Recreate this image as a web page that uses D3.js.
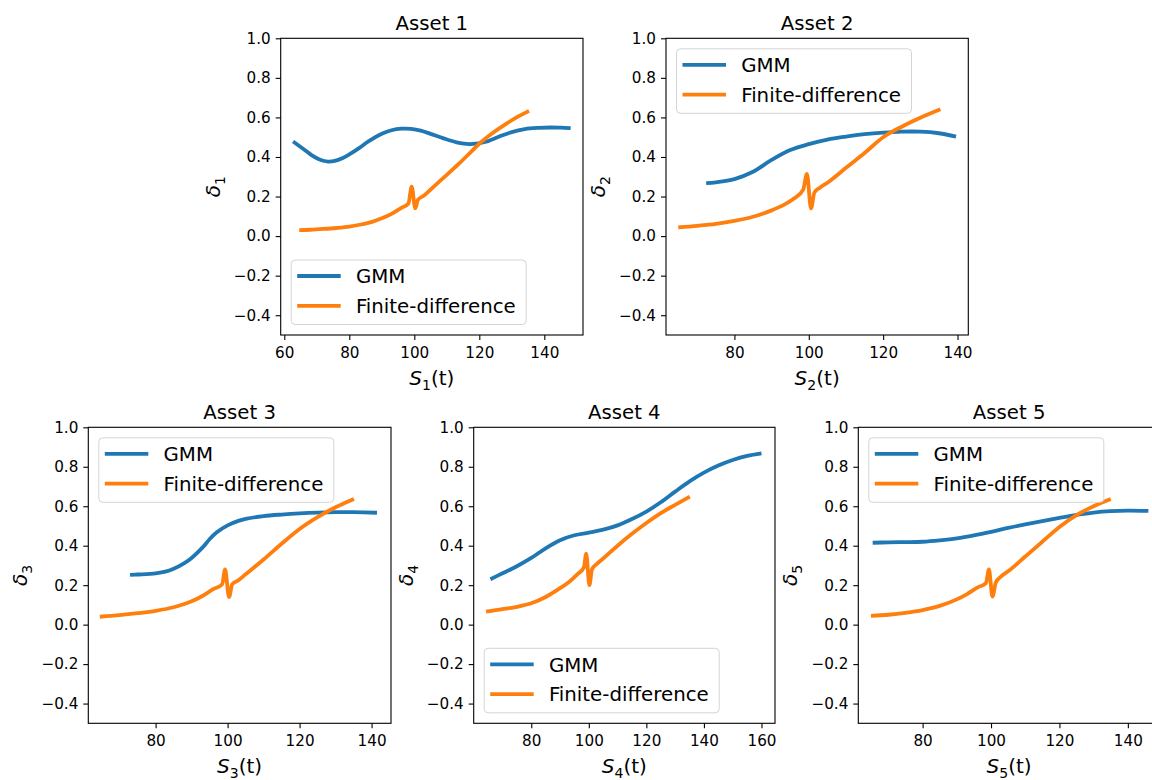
<!DOCTYPE html>
<html>
<head>
<meta charset="utf-8">
<script src="https://cdn.jsdelivr.net/npm/d3@7"></script>
<style>
  body { margin: 0; background: #fff; }
  svg { display: block; }
  text { font-family: "DejaVu Sans", sans-serif; fill: #000; }
</style>
</head>
<body>
<svg id="chart" width="1152" height="780"></svg>
<script>
// ---- data: delta estimates per asset, [S, delta] ----
const seriesNames = ["GMM", "Finite-difference"];
const yTicks = [-0.4, -0.2, 0.0, 0.2, 0.4, 0.6, 0.8, 1.0];
const yDomain = [-0.5, 1.0];

const gmm1 = [[62.7,0.478],[64.5,0.457],[66.5,0.433],[68.5,0.408],[70.5,0.390],[72,0.381],[73.5,0.377],[75.5,0.380],[78,0.395],[80,0.413],[83,0.445],[86,0.480],[90,0.517],[93,0.535],[96,0.543],[99,0.542],[102,0.533],[105,0.517],[109,0.494],[113,0.474],[116,0.466],[119,0.467],[122,0.477],[126,0.502],[130,0.526],[134,0.541],[138,0.547],[142,0.549],[145,0.548],[148.1,0.546]];
const fd1 = [[64.6,0.030],[68,0.032],[72,0.036],[76,0.041],[80,0.048],[84,0.060],[87,0.072],[90,0.090],[93,0.112],[96,0.143],[98.2,0.165],[99.2,0.250],[100.3,0.140],[101.1,0.183],[103,0.205],[106,0.250],[110,0.310],[114,0.370],[118,0.435],[120,0.467],[124,0.520],[128,0.565],[132,0.605],[135.3,0.633]];

const gmm2 = [[72.4,0.268],[75,0.272],[80,0.288],[85,0.325],[90,0.385],[95,0.435],[100,0.465],[105,0.488],[110,0.503],[115,0.515],[120,0.523],[125,0.528],[130,0.528],[135,0.520],[139.6,0.503]];
const fd2 = [[64.9,0.044],[70,0.052],[75,0.062],[80,0.077],[85,0.098],[90,0.130],[93,0.155],[96,0.190],[98.5,0.235],[99.5,0.315],[100.6,0.140],[101.5,0.220],[103,0.245],[105,0.270],[110,0.345],[115,0.420],[120,0.500],[125,0.553],[130,0.598],[135.4,0.641]];

const gmm3 = [[72.9,0.252],[75,0.254],[80,0.260],[83,0.270],[85,0.283],[88,0.312],[90,0.338],[93,0.390],[95,0.433],[97,0.468],[100,0.503],[103,0.526],[105,0.536],[110,0.550],[115,0.558],[120,0.564],[125,0.568],[130,0.570],[135,0.570],[141.5,0.567]];
const fd3 = [[64.5,0.040],[70,0.048],[75,0.058],[80,0.070],[85,0.088],[90,0.118],[93,0.145],[96,0.180],[98.5,0.205],[99.3,0.280],[100.4,0.140],[101.3,0.205],[103,0.225],[105,0.255],[110,0.330],[115,0.410],[120,0.485],[125,0.545],[130,0.595],[135.1,0.637]];

const gmm4 = [[65.8,0.230],[70,0.260],[75,0.296],[80,0.338],[85,0.387],[90,0.428],[95,0.453],[100,0.466],[105,0.481],[110,0.503],[115,0.535],[120,0.573],[125,0.620],[130,0.674],[135,0.726],[140,0.770],[145,0.806],[150,0.834],[155,0.855],[160,0.868]];
const fd4 = [[64.3,0.066],[70,0.078],[75,0.090],[80,0.108],[85,0.140],[90,0.185],[93,0.215],[96,0.255],[98.3,0.290],[99.1,0.360],[100.2,0.200],[101.1,0.280],[103,0.310],[105,0.335],[110,0.400],[115,0.460],[120,0.515],[125,0.565],[130,0.607],[135.1,0.649]];

const gmm5 = [[65.4,0.415],[70,0.417],[75,0.418],[80,0.420],[85,0.427],[90,0.437],[95,0.452],[100,0.470],[105,0.490],[110,0.508],[115,0.525],[120,0.541],[125,0.556],[130,0.568],[135,0.575],[140,0.578],[146,0.576]];
const fd5 = [[64.9,0.044],[70,0.050],[75,0.060],[80,0.074],[85,0.095],[90,0.128],[93,0.155],[96,0.188],[98.5,0.210],[99.4,0.280],[100.4,0.142],[101.4,0.213],[103,0.245],[105,0.270],[110,0.345],[115,0.420],[120,0.495],[125,0.555],[130,0.600],[135,0.637]];

const xTicks1 = [60, 80, 100, 120, 140];
const xTicks2 = [80, 100, 120, 140];
const xTicks4 = [80, 100, 120, 140, 160];

const assets = [
  { id: 1, gmm: gmm1, fd: fd1, xTicks: xTicks1, xDomain: [58.9, 151.9] },
  { id: 2, gmm: gmm2, fd: fd2, xTicks: xTicks2, xDomain: [61.6, 142.9] },
  { id: 3, gmm: gmm3, fd: fd3, xTicks: xTicks2, xDomain: [61.3, 145.4] },
  { id: 4, gmm: gmm4, fd: fd4, xTicks: xTicks4, xDomain: [60.0, 164.7] },
  { id: 5, gmm: gmm5, fd: fd5, xTicks: xTicks2, xDomain: [61.2, 149.4] }
];

// ---- layout: subplot frames and legend placement ----
const frames = [
  { x: 280.7, y: 38.3,  w: 302.3, h: 296.7, legend: "lower" },
  { x: 666.0, y: 38.3,  w: 302.3, h: 296.7, legend: "upper" },
  { x: 88.3,  y: 427.3, w: 302.7, h: 296.0, legend: "upper" },
  { x: 473.7, y: 427.3, w: 301.3, h: 296.0, legend: "lower" },
  { x: 858.3, y: 427.3, w: 301.7, h: 296.0, legend: "upper" }
];

const colors = ["#1f77b4", "#ff7f0e"];
const lineW = 3.8;
const svg = d3.select("#chart");

assets.forEach((a, i) => {
  const f = frames[i];
  const g = svg.append("g").attr("transform", `translate(${f.x},${f.y})`);
  const x = d3.scaleLinear().domain(a.xDomain).range([0, f.w]);
  const y = d3.scaleLinear().domain(yDomain).range([f.h, 0]);

  const clipId = "clip" + a.id;
  g.append("clipPath").attr("id", clipId)
    .append("rect").attr("width", f.w).attr("height", f.h);

  // smooth model curve, sharper finite-difference curve
  const curves = [d3.curveCatmullRom.alpha(0.5), d3.curveMonotoneX];
  const plot = g.append("g").attr("clip-path", `url(#${clipId})`);
  [a.gmm, a.fd].forEach((s, k) => {
    const line = d3.line().x(d => x(d[0])).y(d => y(d[1])).curve(curves[k]);
    plot.append("path").datum(s)
      .attr("d", line)
      .attr("fill", "none")
      .attr("stroke", colors[k])
      .attr("stroke-width", lineW)
      .attr("stroke-linejoin", "round")
      .attr("stroke-linecap", "butt");
  });

  // axes
  const xAxis = g.append("g").attr("transform", `translate(0,${f.h})`)
    .call(d3.axisBottom(x).tickValues(a.xTicks).tickSize(5).tickPadding(7).tickFormat(d3.format("d")));
  const yAxis = g.append("g")
    .call(d3.axisLeft(y).tickValues(yTicks).tickSize(5).tickPadding(5).tickFormat(d3.format(".1f")));
  [xAxis, yAxis].forEach(ax => {
    ax.select(".domain").remove();
    ax.attr("font-family", null).attr("font-size", null);
    ax.selectAll(".tick line").attr("stroke", "#000").attr("stroke-width", 1.1);
    ax.selectAll(".tick text").style("font-size", "15.2px").attr("fill", "#000");
  });

  // frame
  g.append("rect").attr("width", f.w).attr("height", f.h)
    .attr("fill", "none").attr("stroke", "#000").attr("stroke-width", 1.1);

  // title
  g.append("text").attr("x", f.w / 2).attr("y", -8.5)
    .attr("text-anchor", "middle").style("font-size", "19.7px")
    .text("Asset " + a.id);

  // x label: S_i(t)
  const xl = g.append("text").attr("x", f.w / 2).attr("y", f.h + 50)
    .attr("text-anchor", "middle").style("font-size", "20px");
  xl.append("tspan").attr("font-style", "italic").text("S");
  xl.append("tspan").attr("dy", 5).style("font-size", "14px").text(a.id);
  xl.append("tspan").attr("dy", -5).text("(t)");

  // y label: delta_i
  const yl = g.append("text")
    .attr("transform", `translate(-61,${f.h / 2}) rotate(-90)`)
    .attr("text-anchor", "middle").style("font-size", "20px");
  yl.append("tspan").attr("font-style", "italic").text("δ");
  yl.append("tspan").attr("dy", 5).style("font-size", "14px").text(a.id);

  // legend
  const lw = 235, lh = 64.5, off = 10.5;
  const ly = f.legend === "upper" ? off : f.h - off - lh;
  const leg = g.append("g").attr("transform", `translate(${off},${ly})`);
  leg.append("rect").attr("width", lw).attr("height", lh)
    .attr("rx", 4).attr("ry", 4)
    .attr("fill", "#fff").attr("fill-opacity", 0.8)
    .attr("stroke", "#d4d4d4").attr("stroke-width", 1);
  seriesNames.forEach((name, k) => {
    const cy = 16 + k * 29.8;
    leg.append("line").attr("x1", 6).attr("x2", 49.5)
      .attr("y1", cy).attr("y2", cy)
      .attr("stroke", colors[k]).attr("stroke-width", lineW);
    leg.append("text").attr("x", 64.7).attr("y", cy + 7.4)
      .style("font-size", "19.8px").text(name);
  });
});
</script>
</body>
</html>
